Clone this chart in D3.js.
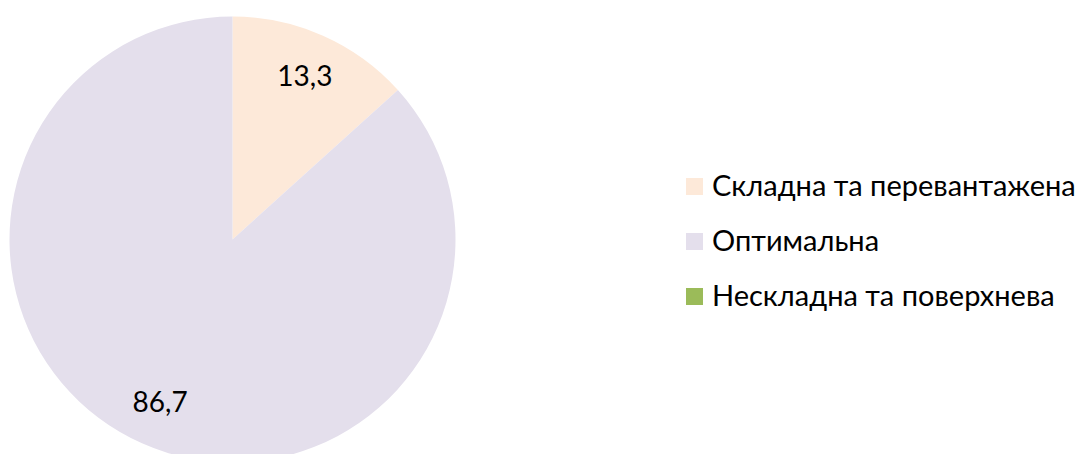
<!DOCTYPE html>
<html>
<head>
<meta charset="utf-8">
<script src="https://cdn.jsdelivr.net/npm/d3@7"></script>
<style>
  body { margin: 0; background: #fff; }
  text { font-family: Lato, "Noto Sans", sans-serif; fill: #000; }
</style>
</head>
<body>
<div id="chart-area"></div>
<script>
var categories = ["Складна та перевантажена", "Оптимальна", "Нескладна та поверхнева"];
var values = [13.3, 86.7, 0];
var labels = ["13,3", "86,7", ""];
var colors = ["#FDE9D9", "#E4DFEC", "#9BBB59"];

var width = 1079, height = 454;
var cx = 232.5, cy = 239.5, radius = 223;

var svg = d3.select("#chart-area").append("svg")
    .attr("width", width)
    .attr("height", height);

var pie = d3.pie().sort(null).value((d) => d);
var arcs = pie(values);

var arc = d3.arc().innerRadius(0).outerRadius(radius);
var labelArc = d3.arc().innerRadius(radius * 0.8).outerRadius(radius * 0.8);

var g = svg.append("g").attr("transform", "translate(" + cx + "," + cy + ")");

g.selectAll("path")
    .data(arcs)
    .enter()
    .append("path")
        .attr("d", arc)
        .attr("fill", (d, i) => colors[i]);

g.selectAll("text.lbl")
    .data(arcs.filter((d) => d.value > 0))
    .enter()
    .append("text")
        .attr("class", "lbl")
        .attr("transform", (d) => "translate(" + labelArc.centroid(d) + ")")
        .attr("text-anchor", "middle")
        .attr("dy", "0.35em")
        .style("font-size", "28px")
        .text((d) => labels[d.index]);

var legend = svg.append("g").attr("transform", "translate(686,186)");
var rows = legend.selectAll("g")
    .data(categories)
    .enter()
    .append("g")
        .attr("transform", (d, i) => "translate(0," + (i * 55) + ")");

rows.append("rect")
    .attr("x", 0)
    .attr("y", -8)
    .attr("width", 17)
    .attr("height", 17)
    .attr("fill", (d, i) => colors[i]);

rows.append("text")
    .attr("x", 26)
    .attr("dy", "0.35em")
    .style("font-size", "29px")
    .text((d) => d);
</script>
</body>
</html>
